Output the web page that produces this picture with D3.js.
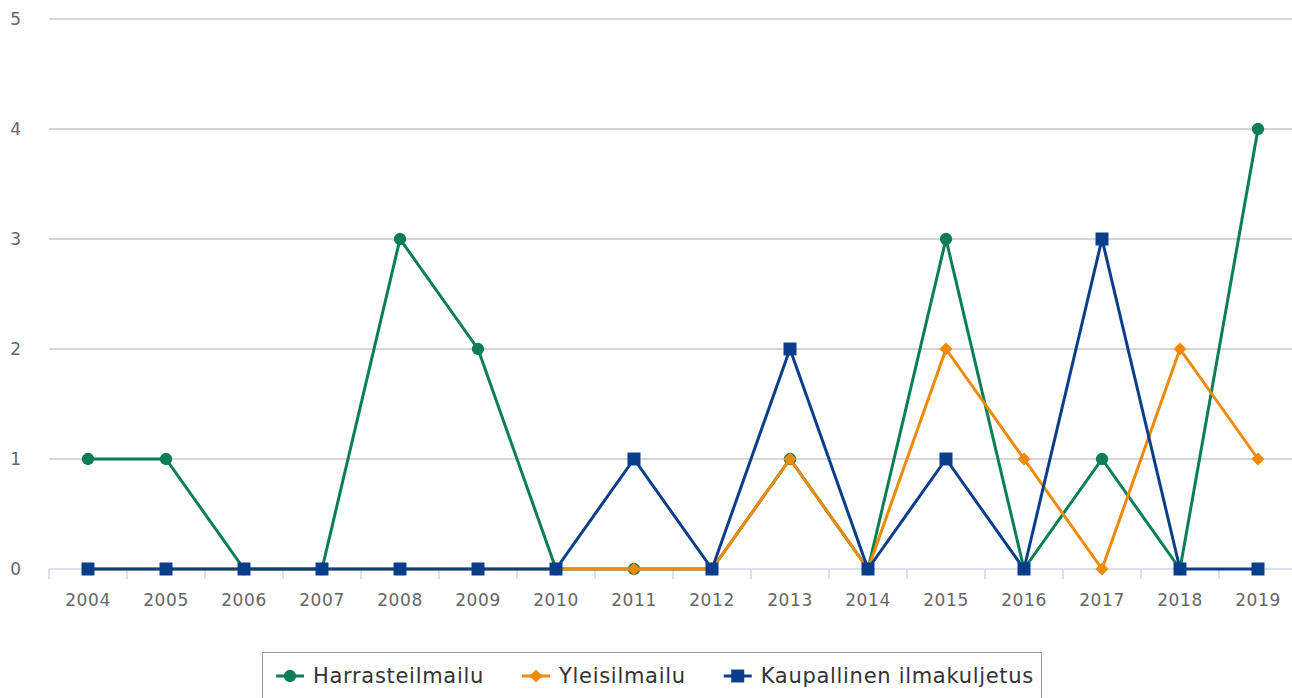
<!DOCTYPE html>
<html>
<head>
<meta charset="utf-8">
<script src="https://d3js.org/d3.v7.min.js"></script>
<style>
  body { margin: 0; background: #fff; font-family: "DejaVu Sans", Verdana, sans-serif; }
  svg { display: block; }
</style>
</head>
<body>
<svg id="chart" width="1292" height="698"></svg>
<script>
// data
var years = ["2004","2005","2006","2007","2008","2009","2010","2011","2012","2013","2014","2015","2016","2017","2018","2019"];
var harrasteilmailu = [1, 1, 0, 0, 3, 2, 0, 0, 0, 1, 0, 3, 0, 1, 0, 4];
var yleisilmailu    = [0, 0, 0, 0, 0, 0, 0, 0, 0, 1, 0, 2, 1, 0, 2, 1];
var kaupallinen     = [0, 0, 0, 0, 0, 0, 0, 1, 0, 2, 0, 1, 0, 3, 0, 0];
var yTicks = [0, 1, 2, 3, 4, 5];

var series = [
  { name: "Harrasteilmailu", values: harrasteilmailu, color: "#0a7f56", symbol: "circle" },
  { name: "Yleisilmailu", values: yleisilmailu, color: "#ee8a05", symbol: "diamond" },
  { name: "Kaupallinen ilmakuljetus", values: kaupallinen, color: "#0a3e8a", symbol: "square" }
];

var svg = d3.select("#chart");
var plotLeft = 49, plotRight = 1297, plotTop = 19, plotBottom = 569;

var x = d3.scaleBand().domain(years).range([plotLeft, plotRight]);
var y = d3.scaleLinear().domain([0, 5]).range([plotBottom, plotTop]);

// grid lines
svg.append("g").selectAll("line")
  .data(yTicks.filter(function (d) { return d > 0; }))
  .enter().append("line")
  .attr("x1", plotLeft).attr("x2", 1292)
  .attr("y1", function (d) { return y(d); })
  .attr("y2", function (d) { return y(d); })
  .attr("stroke", "#c8c8c8").attr("stroke-width", 1.5);

// y labels
svg.append("g").selectAll("text")
  .data(yTicks)
  .enter().append("text")
  .attr("x", 21)
  .attr("y", function (d) { return y(d) + 6; })
  .attr("text-anchor", "end")
  .attr("fill", "#666")
  .style("font-size", "17px")
  .text(function (d) { return d; });

// x axis
var xAxis = svg.append("g").attr("transform", "translate(0," + plotBottom + ")");
xAxis.append("line").attr("x1", plotLeft).attr("x2", 1292).attr("stroke", "#ccd6eb").attr("stroke-width", 1.5);
xAxis.selectAll("line.tick")
  .data(years)
  .enter().append("line").attr("class", "tick")
  .attr("x1", function (d) { return x(d); })
  .attr("x2", function (d) { return x(d); })
  .attr("y1", 0).attr("y2", 10)
  .attr("stroke", "#ccd6eb").attr("stroke-width", 1.5);
xAxis.selectAll("text")
  .data(years)
  .enter().append("text")
  .attr("x", function (d) { return x(d) + x.bandwidth() / 2; })
  .attr("y", 37)
  .attr("text-anchor", "middle")
  .attr("fill", "#666")
  .style("font-size", "17px")
  .style("letter-spacing", "0.6px")
  .text(function (d) { return d; });

function symbolPath(type) {
  if (type === "circle") return d3.symbol(d3.symbolCircle, 120)();
  if (type === "diamond") return "M0,-6.5L6.5,0L0,6.5L-6.5,0Z";
  return "M-6.5,-6.5H6.5V6.5H-6.5Z";
}

var line = d3.line()
  .x(function (d, i) { return x(years[i]) + x.bandwidth() / 2; })
  .y(function (d) { return y(d); });

series.forEach(function (s) {
  var g = svg.append("g");
  g.append("path")
    .attr("d", line(s.values))
    .attr("fill", "none")
    .attr("stroke", s.color)
    .attr("stroke-width", 3)
    .attr("stroke-linejoin", "round");
  g.selectAll("path.marker")
    .data(s.values)
    .enter().append("path").attr("class", "marker")
    .attr("transform", function (d, i) { return "translate(" + (x(years[i]) + x.bandwidth() / 2) + "," + y(d) + ")"; })
    .attr("d", symbolPath(s.symbol))
    .attr("fill", s.color);
});

// legend
var legend = svg.append("g");
legend.append("rect")
  .attr("x", 262.5).attr("y", 652.5).attr("width", 779).attr("height", 60)
  .attr("fill", "#fff").attr("stroke", "#999").attr("stroke-width", 1);
var lx = 276;
series.forEach(function (s) {
  var item = legend.append("g").attr("transform", "translate(" + lx + ",676)");
  item.append("line").attr("x1", 0).attr("x2", 28).attr("stroke", s.color).attr("stroke-width", 3);
  item.append("path").attr("transform", "translate(14,0)").attr("d", symbolPath(s.symbol)).attr("fill", s.color);
  var t = item.append("text")
    .attr("x", 37).attr("y", 7)
    .attr("fill", "#333")
    .style("font-size", "21px")
    .style("letter-spacing", "0.7px")
    .text(s.name);
  lx += 37 + t.node().getComputedTextLength() + 38;
});
</script>
</body>
</html>
